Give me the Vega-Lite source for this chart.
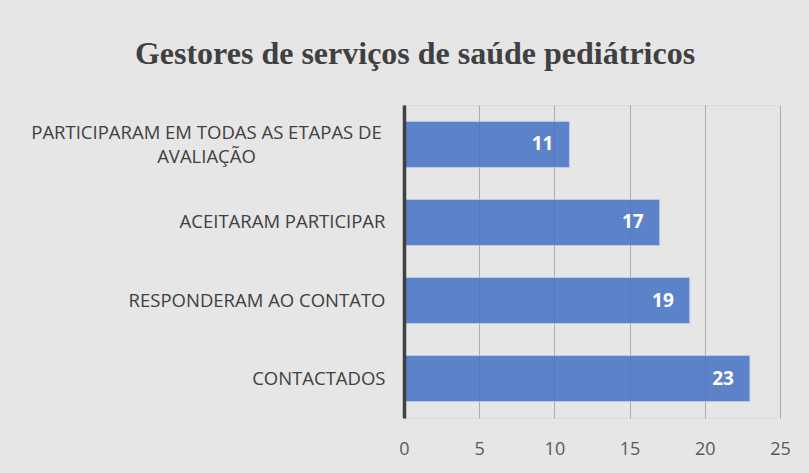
{
  "$schema": "https://vega.github.io/schema/vega-lite/v6.json",
  "width": 376,
  "height": 313,
  "autosize": {"type": "none"},
  "padding": {"left": 404, "top": 105, "right": 29, "bottom": 55},
  "background": "#e6e6e6",
  "title": {
    "text": "Gestores de serviços de saúde pediátricos",
    "font": "Liberation Serif",
    "fontSize": 32,
    "fontWeight": "bold",
    "color": "#404040",
    "anchor": "middle",
    "dx": -177,
    "offset": 9,
    "baseline": "alphabetic"
  },
  "data": {
    "values": [
      {"etapa": "PARTICIPARAM EM TODAS AS ETAPAS DE AVALIAÇÃO", "n": 11},
      {"etapa": "ACEITARAM PARTICIPAR", "n": 17},
      {"etapa": "RESPONDERAM AO CONTATO", "n": 19},
      {"etapa": "CONTACTADOS", "n": 23}
    ]
  },
  "encoding": {
    "y": {
      "field": "etapa",
      "type": "nominal",
      "sort": null,
      "scale": {"paddingInner": 0.41, "paddingOuter": 0.21},
      "axis": {
        "title": null,
        "domain": true,
        "domainColor": "#404040",
        "domainWidth": 3.5,
        "ticks": false,
        "grid": false,
        "zindex": 1,
        "labelFont": "Open Sans",
        "labelFontSize": 18.5,
        "labelColor": "#404040",
        "labelLimit": 0,
        "labelLineHeight": 24,
        "labelOffset": {"condition": {"test": "datum.value == 'PARTICIPARAM EM TODAS AS ETAPAS DE AVALIAÇÃO'", "value": -11}, "value": 0},
        "labelPadding": {"condition": {"test": "datum.value == 'PARTICIPARAM EM TODAS AS ETAPAS DE AVALIAÇÃO'", "value": 198}, "value": 19},
        "labelAlign": {"condition": {"test": "datum.value == 'PARTICIPARAM EM TODAS AS ETAPAS DE AVALIAÇÃO'", "value": "center"}, "value": "right"},
        "labelExpr": "datum.value == 'PARTICIPARAM EM TODAS AS ETAPAS DE AVALIAÇÃO' ? ['PARTICIPARAM EM TODAS AS ETAPAS DE', 'AVALIAÇÃO'] : datum.value"
      }
    },
    "x": {
      "field": "n",
      "type": "quantitative",
      "scale": {"domain": [0, 25], "nice": false},
      "axis": {
        "title": null,
        "domain": false,
        "ticks": false,
        "grid": true,
        "gridColor": "#ababab",
        "gridWidth": 1,
        "values": [0, 5, 10, 15, 20, 25],
        "labelFont": "Open Sans",
        "labelFontSize": 18,
        "labelColor": "#595959",
        "labelPadding": 22,
        "labelFlush": false
      }
    }
  },
  "layer": [
    {
      "mark": {"type": "bar", "color": "#4472C4", "opacity": 0.85, "stroke": "#b4c7e7", "strokeWidth": 1}
    },
    {
      "mark": {"type": "text", "align": "right", "baseline": "middle", "dx": -16, "color": "white", "font": "Open Sans", "fontWeight": "bold", "fontSize": 19},
      "encoding": {"text": {"field": "n", "type": "quantitative"}}
    }
  ]
}
